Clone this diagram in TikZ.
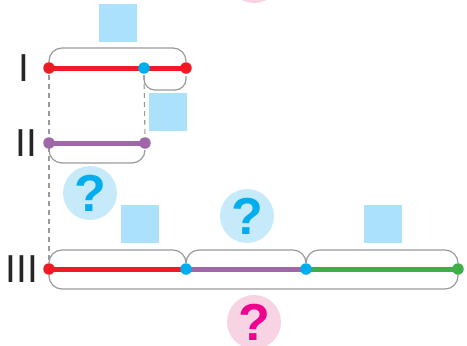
\documentclass[tikz,border=0pt]{standalone}
\usepackage{fontspec}
\setmainfont{Liberation Sans}
\usetikzlibrary{calc}
\definecolor{cred}{HTML}{ED1C24}
\definecolor{cpurple}{HTML}{A066AA}
\definecolor{cgreen}{HTML}{3FAE49}
\definecolor{cblue}{HTML}{00AEEF}
\definecolor{csq}{HTML}{ABE1FA}
\definecolor{cqfill}{HTML}{C7EAFA}
\definecolor{cpink}{HTML}{EC008C}
\definecolor{cpinkfill}{HTML}{F8D3E4}
\definecolor{cgray}{HTML}{9A9A9A}
\begin{document}
\begin{tikzpicture}[x=1pt,y=-1pt,
  dotnode/.style={circle,inner sep=0pt,minimum size=11.5pt,fill=#1},
  bar/.style={line width=5pt,draw=#1},
  bracket/.style={draw=cgray,line width=1.2pt,rounded corners=13pt},
  guide/.style={draw=cgray,line width=1.1pt,dash pattern=on 5pt off 4pt},
  sqbox/.style={fill=csq,minimum size=38pt,inner sep=0pt},
  qmark/.style={circle,fill=cqfill,minimum size=54pt,inner sep=0pt,text=cblue,font=\bfseries\fontsize{52}{52}\selectfont},
  qpink/.style={qmark,fill=cpinkfill,text=cpink},
  roman/.style={font=\fontsize{39}{39}\selectfont,text=black!85}]
\useasboundingbox (0,0) rectangle (467,346);
\clip (0,0) rectangle (467,346);

% labels
\node[roman] (lI) at (24,68) {I};
\node[roman] (lII) at (26,143) {II};
\node[roman] (lIII) at (22,269) {III};

% squares and question marks
\node[sqbox] (s1) at (118,23) {};
\node[sqbox] (s2) at (168,112) {};
\node[sqbox] (s3) at (140,224) {};
\node[sqbox] (s4) at (383,224) {};
\node[qmark] (q1) at (90,193) {?};
\node[qmark] (q2) at (247,216) {?};
\node[qpink] (q3) at (254,322) {?};
\node[qpink] (q0) at (254,-24) {};

% dot coordinates
\coordinate (a1) at (49,68);
\coordinate (a2) at (144,68);
\coordinate (a3) at (186,68);
\coordinate (b1) at (49,143);
\coordinate (b2) at (145,143);
\coordinate (c1) at (49,269);
\coordinate (c2) at (186,269);
\coordinate (c3) at (306,269);
\coordinate (c4) at (458,269);

% dashed guides
\draw[guide] ($(a1)+(0,7)$) -- ($(c1)+(0,-7)$);
\draw[guide] ($(a2)+(0,7)$) -- ($(b2)+(0,-7)$);

% brackets
\draw[bracket] ($(a1)+(0,-5)$) |- ($(a1)!0.5!(a3)+(0,-20)$) -| ($(a3)+(0,-6)$);
\draw[bracket,rounded corners=11pt] ($(a2)+(0,7)$) |- ($(a2)!0.5!(a3)+(0,22)$) -| ($(a3)+(0,8)$);
\draw[bracket] ($(b1)+(0,7)$) |- ($(b1)!0.5!(b2)+(0,20)$) -| ($(b2)+(0,7)$);
\draw[bracket] ($(c1)+(0,-7)$) |- ($(c1)!0.5!(c2)+(0,-19)$) -| ($(c2)+(0,-7)$);
\draw[bracket] ($(c2)+(0,-7)$) |- ($(c2)!0.5!(c3)+(0,-19)$) -| ($(c3)+(0,-7)$);
\draw[bracket] ($(c3)+(0,-7)$) |- ($(c3)!0.5!(c4)+(0,-19)$) -| ($(c4)+(0,-7)$);
\draw[bracket] ($(c1)+(0,6)$) |- ($(c1)!0.5!(c4)+(0,20)$) -| ($(c4)+(0,6)$);

% bars
\draw[bar=cred] (a1) -- (a3);
\draw[bar=cpurple] (b1) -- (b2);
\draw[bar=cred] (c1) -- (c2);
\draw[bar=cpurple] (c2) -- (c3);
\draw[bar=cgreen] (c3) -- (c4);

% dots
\node[dotnode=cred] (d1) at (a1) {};
\node[dotnode=cblue] (d2) at (a2) {};
\node[dotnode=cred] (d3) at (a3) {};
\node[dotnode=cpurple] (d4) at (b1) {};
\node[dotnode=cpurple] (d5) at (b2) {};
\node[dotnode=cred] (d6) at (c1) {};
\node[dotnode=cblue] (d7) at (c2) {};
\node[dotnode=cblue] (d8) at (c3) {};
\node[dotnode=cgreen] (d9) at (c4) {};
\end{tikzpicture}
\end{document}
